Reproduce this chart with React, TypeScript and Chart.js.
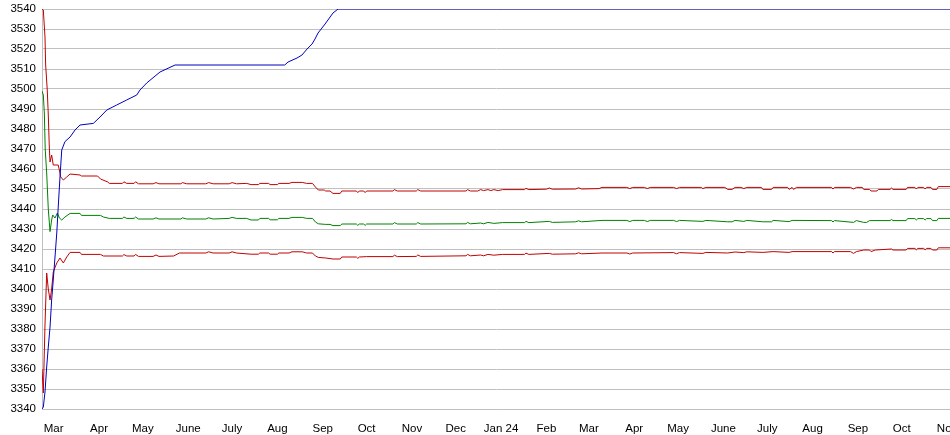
import React, { useEffect, useRef } from "react";
import { Chart, registerables } from "chart.js";

Chart.register(...registerables);

// x values are days counted from 21 Feb 2023
const monthTickDays = [8, 39, 69, 100, 130, 161, 192, 222, 253, 283, 314, 345, 374, 405, 435, 466, 496, 527, 558, 588, 619];
const monthTickLabels = ["Mar", "Apr", "May", "June", "July", "Aug", "Sep", "Oct", "Nov", "Dec", "Jan 24", "Feb", "Mar", "Apr", "May", "June", "July", "Aug", "Sep", "Oct", "Nov"];

const blueDays = [0, 0.9, 2.05, 3.2, 4.3, 5.5, 6.6, 7.7, 8.9, 10.1, 11.1, 12.3, 13.5, 15.7, 19.2, 22.6, 26, 35.1, 39.7, 44.3, 51.1, 57.9, 64.8, 67, 71.6, 80.7, 91, 166, 168.3, 174.4, 177.8, 181.3, 184.7, 186.7, 188.8, 193.6, 199, 202.5, 621];
const blueValues = [3340, 3341, 3348.5, 3361, 3371, 3381, 3394.5, 3404.5, 3416, 3428, 3441, 3456, 3469.5, 3473.7, 3476, 3479.5, 3482, 3482.8, 3486, 3489.5, 3492, 3494.5, 3497, 3499.5, 3503, 3508.5, 3512, 3512, 3513.5, 3515.5, 3517, 3520, 3522.5, 3525, 3528, 3532.5, 3538, 3540, 3540];

const upperDays = [0, 0.9, 2.05, 2.5, 3.6, 4.3, 5, 5.5, 6.6, 7.7, 11.1, 12.3, 12.8, 14.6, 16.9, 19.2, 26, 27, 38, 40, 45, 46, 55, 56, 58, 63, 64, 66, 76, 78, 80, 95, 96, 99, 112, 114, 117, 128, 130, 133, 140, 143, 148, 149, 155, 156, 161, 162, 169, 171, 178, 181, 185, 187, 189, 193, 194, 197, 199, 204, 205, 215, 216, 217, 220, 221, 222, 240, 241, 243, 256, 257, 259, 290, 291, 293, 298, 300, 302, 305, 307, 309, 312, 315, 330, 331, 333, 345, 347, 349, 365, 367, 369, 381, 383, 400, 402, 404, 412, 414, 416, 432, 434, 436, 451, 452, 454, 467, 469, 472, 474, 478, 480, 482, 492, 493, 499, 500, 510, 511, 513, 514, 516, 540, 541, 542, 553, 555, 557, 561, 562, 566, 567, 571, 572, 580, 581, 582, 591, 592, 597, 598, 599, 603, 604, 605, 608, 609, 612, 613, 621];
const upperValues = [3540, 3539.5, 3526, 3512, 3499.5, 3487, 3471, 3463.5, 3467, 3462, 3462, 3458, 3456, 3454.5, 3456, 3457.5, 3457, 3456.5, 3456.5, 3455, 3453.5, 3452.8, 3452.8, 3453.6, 3452.8, 3452.8, 3453.6, 3452.6, 3452.6, 3453.2, 3452.6, 3452.6, 3453.2, 3452.6, 3452.6, 3453.2, 3452.6, 3452.6, 3453.2, 3452.6, 3452.8, 3452.2, 3452.2, 3452.8, 3452.8, 3452.2, 3452.2, 3452.8, 3452.8, 3453.3, 3453.3, 3452.8, 3452.8, 3451, 3449.5, 3449.5, 3449, 3449, 3447.8, 3447.8, 3449, 3449, 3448.2, 3449, 3449, 3448.2, 3449, 3449, 3449.7, 3449, 3449, 3449.7, 3449, 3449, 3449.7, 3449, 3449, 3449.7, 3449.2, 3449.7, 3449.2, 3449.7, 3449.2, 3449.7, 3449.7, 3450.3, 3449.7, 3449.9, 3450.5, 3449.9, 3450, 3450.6, 3450, 3450.2, 3450.8, 3450.8, 3450.2, 3450.8, 3450.8, 3450.2, 3450.8, 3450.8, 3450.2, 3450.8, 3450.8, 3450.2, 3450.8, 3450.8, 3449.8, 3449.8, 3450.8, 3450.8, 3450.2, 3450.8, 3450.8, 3449.8, 3449.8, 3450.8, 3450.8, 3449.8, 3450.8, 3449.8, 3450.8, 3450.8, 3450, 3450.8, 3450.8, 3450, 3450.8, 3450.8, 3449.8, 3449.8, 3449, 3449, 3449.8, 3449.8, 3450.5, 3449.8, 3449.8, 3450.8, 3450.8, 3450, 3450.8, 3450.8, 3450, 3450.8, 3450.8, 3449.8, 3449.8, 3451.2, 3451.2];

const midDays = [0, 0.9, 1.6, 2.2, 3.2, 4.3, 5.5, 6.6, 7.3, 8.9, 10.5, 11.9, 13.5, 15.7, 19.2, 26, 27, 40, 42, 46, 55, 56, 58, 63, 64, 66, 76, 78, 80, 95, 96, 99, 112, 114, 117, 128, 130, 133, 140, 143, 148, 149, 155, 156, 161, 162, 169, 171, 178, 181, 185, 187, 189, 194, 197, 199, 204, 205, 215, 216, 217, 220, 221, 222, 240, 241, 243, 256, 257, 259, 290, 291, 293, 300, 302, 305, 309, 315, 330, 331, 333, 347, 349, 365, 367, 369, 383, 400, 402, 404, 412, 414, 416, 432, 434, 436, 452, 454, 469, 472, 474, 480, 482, 493, 499, 500, 511, 513, 540, 541, 542, 555, 557, 562, 564, 566, 580, 581, 582, 591, 592, 597, 598, 599, 603, 604, 605, 608, 609, 612, 613, 621];
const midValues = [3499, 3497, 3488, 3470, 3458, 3440, 3428.7, 3434.5, 3437, 3435.5, 3438, 3435.5, 3434.5, 3436, 3437.8, 3437.8, 3436.8, 3436.8, 3436, 3435.3, 3435.3, 3436, 3435.3, 3435.3, 3436, 3435, 3435, 3435.6, 3435, 3435, 3435.6, 3435, 3435, 3435.6, 3435, 3435.3, 3435.8, 3435.3, 3435.3, 3434.5, 3434.5, 3435.3, 3435.3, 3434.6, 3434.6, 3435.3, 3435.3, 3435.8, 3435.8, 3435.3, 3435.3, 3433.5, 3432.6, 3432.3, 3432.3, 3431.7, 3431.7, 3432.5, 3432.5, 3431.8, 3432.5, 3432.5, 3431.8, 3432.5, 3432.5, 3433.2, 3432.5, 3432.5, 3433.2, 3432.5, 3432.6, 3433.3, 3432.6, 3433, 3432.6, 3433.3, 3432.8, 3433.2, 3433.2, 3433.8, 3433.2, 3433.8, 3433.3, 3433.6, 3434.1, 3433.6, 3434.3, 3434.3, 3433.7, 3434.3, 3434.3, 3433.7, 3434.3, 3434.3, 3433.7, 3434.3, 3433.8, 3434.3, 3433.6, 3433.6, 3434.3, 3433.8, 3434.3, 3433.6, 3433.6, 3434.3, 3433.7, 3434.3, 3434.2, 3433.5, 3434.2, 3433.3, 3434.2, 3433.3, 3433.3, 3434.2, 3434.2, 3434.8, 3434.2, 3434.2, 3435.2, 3435.2, 3434.5, 3435.2, 3435.2, 3434.5, 3435.2, 3435.2, 3434.2, 3434.2, 3435.3, 3435.3];

const lowerDays = [0, 0.9, 2.05, 3.2, 4.3, 5.5, 6.6, 7.7, 10.1, 12.3, 14.6, 16.9, 19.2, 26, 27, 40, 42, 55, 56, 58, 63, 64, 66, 76, 78, 80, 90, 94, 112, 114, 117, 128, 130, 133, 143, 148, 149, 155, 156, 161, 162, 169, 171, 178, 181, 185, 187, 189, 194, 199, 204, 205, 215, 216, 217, 222, 240, 241, 243, 256, 257, 259, 290, 291, 293, 300, 302, 305, 309, 315, 330, 331, 333, 347, 349, 365, 367, 369, 383, 400, 402, 404, 432, 434, 436, 452, 454, 469, 474, 480, 482, 493, 500, 511, 513, 540, 541, 542, 553, 555, 557, 562, 566, 567, 570, 581, 582, 591, 592, 597, 598, 599, 603, 604, 605, 608, 609, 612, 613, 621];
const lowerValues = [3360, 3348, 3382, 3408, 3400, 3394.5, 3400, 3408.5, 3413, 3415.5, 3413, 3416, 3418.3, 3418.3, 3417.3, 3417.3, 3416.5, 3416.5, 3417.2, 3416.5, 3416.5, 3417.3, 3416.3, 3416.3, 3417, 3416.3, 3416.5, 3418, 3418, 3418.6, 3418, 3418, 3418.6, 3418, 3417.4, 3417.4, 3418, 3418, 3417.4, 3417.4, 3418, 3418, 3418.6, 3418.6, 3418, 3418, 3416.5, 3415.8, 3415.5, 3415, 3415, 3416, 3416, 3415.3, 3416, 3416.2, 3416.2, 3416.9, 3416.2, 3416.3, 3417, 3416.3, 3416.6, 3417.3, 3416.6, 3417, 3416.6, 3417.3, 3416.9, 3417.3, 3417.3, 3417.9, 3417.3, 3417.8, 3417.4, 3417.6, 3418.1, 3417.6, 3418, 3418, 3417.5, 3418, 3418.2, 3417.6, 3418.2, 3417.8, 3418.3, 3418, 3418.5, 3418.2, 3418.6, 3418.3, 3418.7, 3418.3, 3418.7, 3418.7, 3418, 3418.7, 3418.7, 3417.8, 3418.7, 3419.5, 3419.5, 3418.7, 3419.5, 3420, 3419.5, 3419.5, 3420.3, 3420.3, 3419.6, 3420.3, 3420.3, 3419.6, 3420.3, 3420.3, 3419.5, 3419.5, 3420.6, 3420.6];

const toPoints = (xs: number[], ys: number[]) => xs.map((x, i) => ({ x, y: ys[i] }));

export default function App() {
  const ref = useRef<HTMLCanvasElement | null>(null);

  useEffect(() => {
    document.body.style.margin = "0";
    const canvas = ref.current;
    if (!canvas) return;
    const font = { family: "'Liberation Sans', Arial, sans-serif", size: 11.5 };
    const lineStyle = { borderWidth: 1, pointRadius: 0, pointHoverRadius: 0, tension: 0, fill: false };
    const chart = new Chart(canvas, {
      type: "line",
      data: {
        datasets: [
          { label: "Blue", data: toPoints(blueDays, blueValues), borderColor: "#0000c0", ...lineStyle },
          { label: "Upper", data: toPoints(upperDays, upperValues), borderColor: "#c00000", ...lineStyle },
          { label: "Middle", data: toPoints(midDays, midValues), borderColor: "#008000", ...lineStyle },
          { label: "Lower", data: toPoints(lowerDays, lowerValues), borderColor: "#c00000", ...lineStyle },
        ],
      },
      options: {
        animation: false,
        responsive: false,
        devicePixelRatio: 1,
        events: [],
        layout: { padding: { top: 9, right: 0, bottom: 0, left: 0 } },
        plugins: { legend: { display: false }, tooltip: { enabled: false }, title: { display: false } },
        scales: {
          x: {
            type: "linear",
            min: 0,
            max: 621,
            grid: { display: false },
            border: { display: true, color: "#c0c0c0", width: 1 },
            afterBuildTicks: (scale: any) => {
              scale.ticks = monthTickDays.map((v) => ({ value: v }));
            },
            afterFit: (scale: any) => {
              scale.height = 26;
              scale.paddingLeft = 0;
              scale.paddingRight = 0;
            },
            ticks: {
              autoSkip: false,
              maxRotation: 0,
              minRotation: 0,
              padding: 5,
              color: "#000",
              font,
              callback: (_v: any, i: number) => monthTickLabels[i],
            },
          },
          y: {
            type: "linear",
            min: 3340,
            max: 3540,
            grid: { color: "#c0c0c0", lineWidth: 1, drawTicks: false },
            border: { display: true, color: "#c0c0c0", width: 1 },
            afterFit: (scale: any) => {
              scale.width = 42;
              scale.paddingTop = 0;
              scale.paddingBottom = 0;
            },
            ticks: {
              stepSize: 10,
              padding: 6,
              color: "#000",
              font,
              callback: (v: any) => String(v),
            },
          },
        },
      },
    } as any);
    return () => chart.destroy();
  }, []);

  return (
    <div style={{ position: "absolute", left: 0, top: 0, width: 950, height: 435 }}>
      <canvas ref={ref} width={950} height={435} style={{ display: "block", width: 950, height: 435 }} />
    </div>
  );
}
